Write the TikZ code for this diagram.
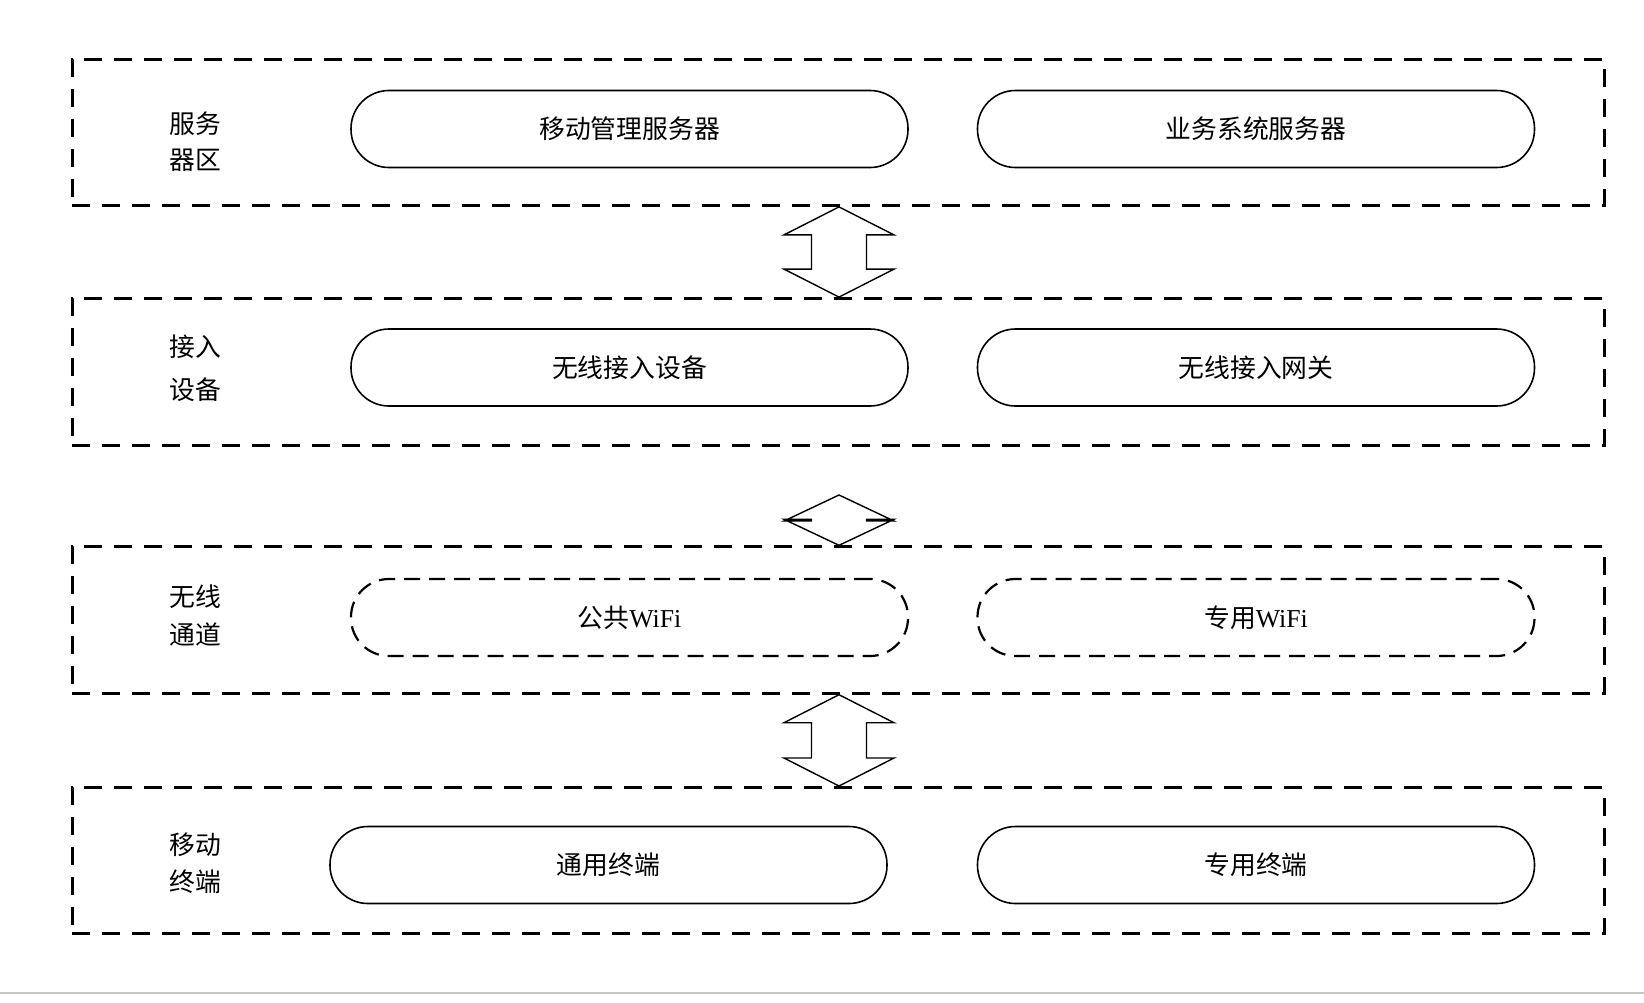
\documentclass[tikz,border=0pt]{standalone}
\usepackage{fontspec}
\setmainfont{Liberation Serif}
\newfontfamily\cjk{Noto Sans CJK SC}
\usetikzlibrary{calc}

\tikzset{
    layer/.style={draw, line width=1.5pt, dash pattern=on 9pt off 6pt,
        minimum width=766pt, minimum height=73.2pt, inner sep=0pt},
    unit/.style={draw, line width=0.8pt, rounded corners=19pt,
        minimum width=278.5pt, minimum height=38.5pt, inner sep=0pt,
        font=\fontsize{12.9}{15}\selectfont\cjk},
    wifi/.style={unit, line width=1.1pt, dash pattern=on 8pt off 4.5pt},
    tag/.style={align=center, font=\fontsize{12.9}{15}\selectfont\cjk},
    link/.style={draw, line width=0.7pt, line join=miter},
}

% double arrow between layers: top tip, bottom tip, head length
\newcommand{\layerlink}[3]{%
    \draw[link] (#1) -- ++(55,#3) -- ++(-27.5,0) -- ($(#2)+(27.5,-#3)$) -- ++(27.5,0) --
        (#2) -- ++(-55,-#3) -- ++(27.5,0) -- ($(#1)+(-27.5,#3)$) -- ++(-27.5,0) -- cycle;
}

\begin{document}
\begin{tikzpicture}[x=0.5pt, y=-0.5pt]
    \useasboundingbox (0,0) rectangle (1644,1002);

    % layers
    \node[layer] (L1) at (838,132.2) {};
    \node[layer] (L2) at (838,371.8) {};
    \node[layer] (L3) at (838,620) {};
    \node[layer] (L4) at (838,860.7) {};

    \node[tag] (T1) at (195,142) {服务\\[3pt]器区};
    \node[tag] (T2) at (195,368.5) {接入\\[6.5pt]设备};
    \node[tag] (T3) at (195,616) {无线\\[4pt]通道};
    \node[tag] (T4) at (195,863.5) {移动\\[3.5pt]终端};

    % servers
    \node[unit] (mdm) at (629.5,129) {移动管理服务器};
    \node[unit] (biz) at (1256,129) {业务系统服务器};

    % access
    \node[unit] (ap) at (629.5,367.5) {无线接入设备};
    \node[unit] (gw) at (1256,367.5) {无线接入网关};

    % channels
    \node[wifi] (pub) at (629.5,617.5) {公共{\fontspec{Liberation Serif}WiFi}};
    \node[wifi] (pri) at (1256,617.5) {专用{\fontspec{Liberation Serif}WiFi}};

    % terminals
    \node[unit] (gen) at (608.5,865) {通用终端};
    \node[unit] (ded) at (1256,865) {专用终端};

    % links
    \coordinate (ax) at (839,0);
    \coordinate (mid) at (839,495);
    \layerlink{ax |- L1.south}{ax |- L2.north}{28}
    \layerlink{mid}{ax |- L3.north}{26}
    \layerlink{ax |- L3.south}{ax |- L4.north}{28}

    \draw[gray!45, line width=0.9pt] (0,993) -- (1644,993);
\end{tikzpicture}
\end{document}
